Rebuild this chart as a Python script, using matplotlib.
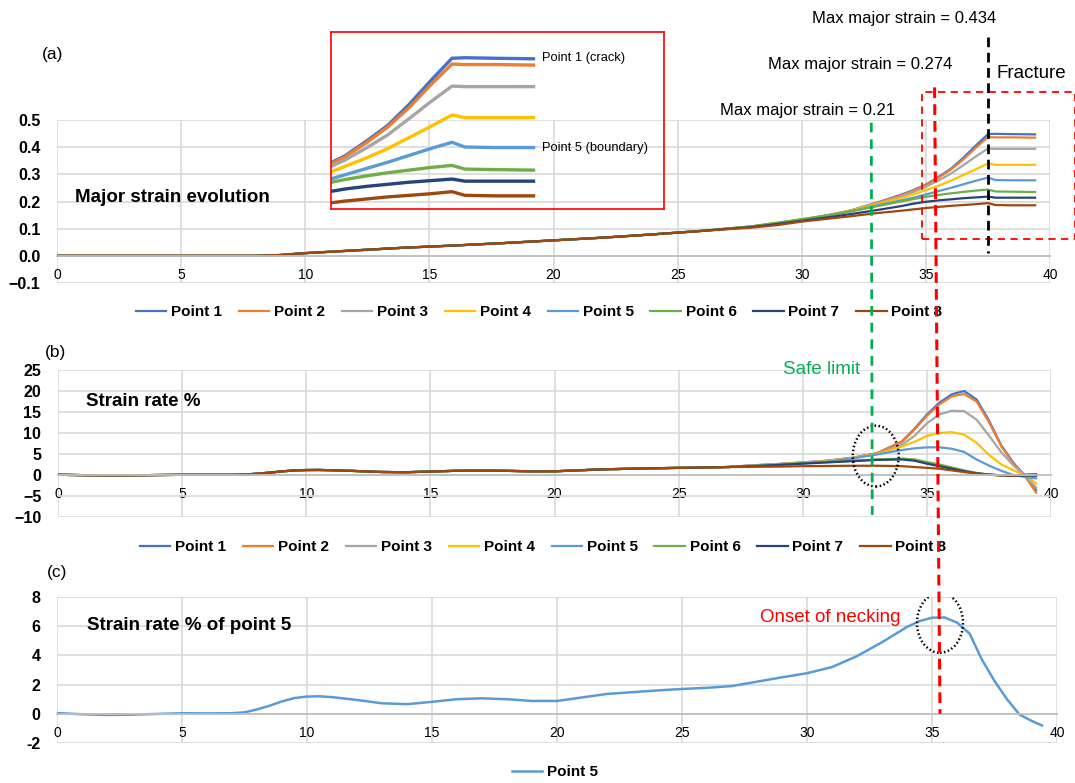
import matplotlib
matplotlib.use("Agg")
import matplotlib.pyplot as plt
from matplotlib.lines import Line2D
from matplotlib.patches import Ellipse, Rectangle

plt.rcParams['font.family'] = ['Liberation Sans', 'DejaVu Sans']

W, H = 1075, 783

# ---- data ----
names = ['Point 1', 'Point 2', 'Point 3', 'Point 4', 'Point 5', 'Point 6', 'Point 7', 'Point 8']
colors = ['#4472C4', '#ED7D31', '#A5A5A5', '#FFC000', '#5B9BD5', '#70AD47', '#264478', '#9E480E']

# (a) major strain
ms_x = [0, 2, 4, 6, 8, 9, 10, 12, 14, 16, 18, 20, 22, 24, 26, 28, 29, 30, 31, 32, 33, 34,
        34.5, 35, 35.5, 36, 36.5, 37, 37.5, 37.8, 38.5, 39.4]
ms_early = [0, 0, 0, 0, 0, 0.003, 0.01, 0.02, 0.03, 0.038, 0.047, 0.057, 0.067, 0.079, 0.092]
ms_p1 = ms_early + [0.108, 0.12, 0.133, 0.148, 0.168, 0.195, 0.225, 0.242, 0.262, 0.29, 0.32,
                    0.36, 0.405, 0.448, 0.449, 0.448, 0.447]
ms_p2 = ms_early + [0.108, 0.12, 0.133, 0.148, 0.167, 0.194, 0.223, 0.24, 0.26, 0.287, 0.317,
                    0.354, 0.397, 0.437, 0.436, 0.436, 0.435]
ms_p3 = ms_early + [0.108, 0.12, 0.133, 0.148, 0.167, 0.192, 0.219, 0.235, 0.254, 0.277, 0.302,
                    0.333, 0.365, 0.395, 0.394, 0.394, 0.394]
ms_p4 = ms_early + [0.108, 0.121, 0.134, 0.149, 0.167, 0.19, 0.213, 0.226, 0.242, 0.258, 0.276,
                    0.297, 0.318, 0.34, 0.335, 0.335, 0.335]
ms_p5 = ms_early + [0.108, 0.12, 0.133, 0.147, 0.164, 0.185, 0.204, 0.214, 0.226, 0.238, 0.25,
                    0.263, 0.276, 0.288, 0.279, 0.278, 0.278]
ms_p6 = ms_early + [0.109, 0.122, 0.135, 0.149, 0.164, 0.182, 0.2, 0.209, 0.217, 0.224, 0.23,
                    0.235, 0.24, 0.244, 0.237, 0.236, 0.235]
ms_p7 = ms_early + [0.106, 0.117, 0.129, 0.141, 0.154, 0.168, 0.183, 0.192, 0.199, 0.204, 0.208,
                    0.212, 0.215, 0.218, 0.214, 0.214, 0.214]
ms_p8 = ms_early + [0.104, 0.113, 0.126, 0.136, 0.146, 0.157, 0.166, 0.171, 0.176, 0.18, 0.184,
                    0.187, 0.19, 0.194, 0.187, 0.186, 0.186]

# (b), (c) strain rate %
sr_x = [0, 1, 2, 3, 4, 5, 6, 7, 7.5, 8, 8.5, 9, 9.5, 10, 10.5, 11, 12, 13, 14, 15, 16, 17, 18,
        19, 20, 21, 22, 23, 24, 25, 26, 27, 28, 29, 30, 31, 32, 33, 34, 34.5, 35, 35.5, 36,
        36.5, 37, 37.5, 38, 38.5, 39, 39.4]
sr_early = [0.05, -0.03, -0.08, -0.06, -0.01, 0.04, 0.03, 0.04, 0.1, 0.3, 0.55, 0.85, 1.08,
            1.18, 1.2, 1.14, 0.95, 0.72, 0.66, 0.82, 1.0, 1.06, 1.0, 0.88, 0.88, 1.12, 1.36,
            1.48, 1.6, 1.7, 1.78, 1.9]
sr_p1 = sr_early + [2.3, 2.6, 3.0, 3.4, 4.1, 5.2, 8.0, 11.0, 14.4, 17.2, 19.2, 20.0, 18.0,
                    13.0, 7.0, 2.8, -0.5, -3.6]
sr_p2 = sr_early + [2.3, 2.6, 3.0, 3.4, 4.1, 5.2, 7.9, 10.8, 14.1, 16.8, 18.7, 19.3, 17.5,
                    12.6, 6.8, 2.6, -0.7, -4.2]
sr_p3 = sr_early + [2.3, 2.6, 2.9, 3.3, 4.0, 5.0, 7.2, 9.3, 12.3, 14.4, 15.3, 15.2, 13.2,
                    9.4, 5.4, 2.2, -0.4, -3.0]
sr_p4 = sr_early + [2.2, 2.5, 2.9, 3.3, 4.0, 5.0, 6.8, 7.9, 9.3, 10.0, 10.2, 9.6, 7.7,
                    4.8, 2.5, 1.1, -0.2, -2.0]
sr_p5 = sr_early + [2.2, 2.5, 2.78, 3.2, 3.95, 4.9, 5.95, 6.35, 6.58, 6.6, 6.25, 5.5, 3.7,
                    2.25, 1.0, -0.05, -0.5, -0.8]
sr_p6 = sr_early + [2.1, 2.4, 2.8, 3.1, 3.4, 3.7, 3.9, 3.7, 3.1, 2.5, 1.8, 1.1, 0.5,
                    0.1, -0.1, -0.2, 0.0, 0.0]
sr_p7 = sr_early + [2.1, 2.4, 2.7, 3.0, 3.3, 3.6, 3.7, 3.4, 2.7, 2.1, 1.5, 0.9, 0.4,
                    0.1, -0.1, -0.2, -0.1, -0.2]
sr_p8 = sr_early + [1.95, 2.0, 2.1, 2.15, 2.2, 2.2, 2.1, 1.9, 1.7, 1.5, 1.1, 0.7, 0.35,
                    0.1, -0.1, -0.1, 0.1, 0.2]

major = [ms_p1, ms_p2, ms_p3, ms_p4, ms_p5, ms_p6, ms_p7, ms_p8]
rates = [sr_p1, sr_p2, sr_p3, sr_p4, sr_p5, sr_p6, sr_p7, sr_p8]

safe_x, neck_x, frac_x = 32.8, 35.32, 37.5


def box(l, t, r, b):
    return [l / W, 1 - b / H, (r - l) / W, (b - t) / H]


def fx(x):
    return x / W


def fy(y):
    return 1 - y / H


def style(ax, ylim, yticks, ylabels):
    ax.set_xlim(0, 40)
    ax.set_ylim(*ylim)
    ax.set_xticks(range(0, 41, 5), [str(v) for v in range(0, 41, 5)], fontweight='bold', fontsize=11.5)
    ax.set_yticks(yticks, ylabels, fontweight='bold', fontsize=11.5)
    ax.grid(True, color='#D9D9D9', lw=1.2)
    ax.set_axisbelow(True)
    for s in ['top', 'right', 'left']:
        ax.spines[s].set_visible(False)
    ax.spines['bottom'].set_position(('data', 0))
    ax.spines['bottom'].set_color('#BFBFBF')
    ax.spines['bottom'].set_linewidth(1.3)
    ax.tick_params(length=0)
    ax.tick_params(axis='x', pad=8.5)
    ax.tick_params(axis='y', pad=12)


def span_line(axA, ptA, axB, ptB, **kw):
    # straight line between a data point of one axes and a data point of another
    inv = fig.transFigure.inverted()
    xa, ya = inv.transform(axA.transData.transform(ptA))
    xb, yb = inv.transform(axB.transData.transform(ptB))
    fig.add_artist(Line2D([xa, xb], [ya, yb], transform=fig.transFigure, zorder=10, **kw))


fig = plt.figure(figsize=(W / 100, H / 100), dpi=100)
ax_a = fig.add_axes(box(57, 120, 1050, 283))
ax_b = fig.add_axes(box(58, 370, 1051, 517))
ax_c = fig.add_axes(box(57, 597, 1057, 743))

# (a)
lines_a = [ax_a.plot(ms_x, v, color=c, lw=1.6, label=n)[0] for v, c, n in zip(major, colors, names)]
style(ax_a, (-0.1, 0.5), [-0.1, 0, 0.1, 0.2, 0.3, 0.4, 0.5],
      ['\u22120.1', '0.0', '0.1', '0.2', '0.3', '0.4', '0.5'])

# (b)
lines_b = [ax_b.plot(sr_x, v, color=c, lw=1.6, label=n)[0] for v, c, n in zip(rates, colors, names)]
style(ax_b, (-10, 25), range(-10, 26, 5),
      ['\u221210', '\u22125', '0', '5', '10', '15', '20', '25'])

# (c)
line_c = ax_c.plot(sr_x, sr_p5, color=colors[4], lw=1.8, label='Point 5')[0]
style(ax_c, (-2, 8), range(-2, 9, 2), ['-2', '0', '2', '4', '6', '8'])

leg = dict(frameon=False, prop={'weight': 'bold', 'size': 11}, handlelength=2.0,
           handletextpad=0.3, columnspacing=1.1, loc='center')
fig.legend(handles=lines_a, ncol=8, bbox_to_anchor=(fx(539), fy(312)), **leg)
fig.legend(handles=lines_b, ncol=8, bbox_to_anchor=(fx(543), fy(547)), **leg)
fig.legend(handles=[line_c], ncol=1, bbox_to_anchor=(fx(555), fy(772)), **leg)

# inset: zoom of the fracture region
ax_in = fig.add_axes(box(331, 32, 664, 209))
ax_in.patch.set_visible(False)
for v, c in zip(major, colors):
    ax_in.plot(ms_x, v, color=c, lw=2.4)
ax_in.set_xlim(34.68, 42.44)
ax_in.set_ylim(0.161, 0.498)
ax_in.set_xticks([])
ax_in.set_yticks([])
for s in ax_in.spines.values():
    s.set_color('red')
    s.set_linewidth(1.2)
fig.text(fx(542), fy(58), 'Point 1 (crack)', fontsize=9.3, va='center')
fig.text(fx(542), fy(148), 'Point 5 (boundary)', fontsize=9.3, va='center')

# red dashed zoom box
ax_a.add_patch(Rectangle((34.84, 0.063), 41.0 - 34.84, 0.604 - 0.063, fill=False, ec='red',
                         lw=1.3, ls=(0, (4, 3)), clip_on=False, zorder=5))

# vertical marker lines
span_line(ax_a, (35.35, 0.62), ax_c, (neck_x, 0.0), color='red', lw=2.2, ls=(0, (3.5, 2)))
span_line(ax_a, (safe_x, 0.49), ax_b, (safe_x, -9.5), color='#00B050', lw=2.0, ls=(0, (3.5, 2.5)))
ax_a.plot([frac_x, frac_x], [0.807, 0.01], color='black', lw=2.0, ls=(0, (3.5, 2)),
          clip_on=False, zorder=10)

# circles
ax_b.add_patch(Ellipse((32.94, 4.5), 1.85, 14.5, fill=False, ec='black', lw=1.8,
                       ls=(0, (0.6, 1.0)), zorder=6))
ax_c.add_patch(Ellipse((35.32, 6.23), 1.84, 4.1, fill=False, ec='black', lw=1.8,
                       ls=(0, (0.6, 1.0)), zorder=6))

# texts
fs = 12
fig.text(fx(904), fy(19), 'Max major strain = 0.434', fontsize=fs, ha='center', va='center')
fig.text(fx(860), fy(65), 'Max major strain = 0.274', fontsize=fs, ha='center', va='center')
fig.text(fx(808), fy(110), 'Max major strain = 0.21', fontsize=fs, ha='center', va='center')
fig.text(fx(997), fy(73), 'Fracture', fontsize=13.5, ha='left', va='center')
fig.text(fx(822), fy(369), 'Safe limit', fontsize=13.5, ha='center', va='center', color='#00B050')
fig.text(fx(900), fy(617), 'Onset of necking', fontsize=13.5, ha='right', va='center', color='red')

fig.text(fx(53), fy(55), '(a)', fontsize=12.5, ha='center', va='center')
fig.text(fx(55), fy(353), '(b)', fontsize=12.5, ha='center', va='center')
fig.text(fx(57), fy(572), '(c)', fontsize=12.5, ha='center', va='center')

fig.text(fx(75), fy(197), 'Major strain evolution', fontsize=13.5, fontweight='bold', va='center')
fig.text(fx(86), fy(402), 'Strain rate %', fontsize=13.5, fontweight='bold', va='center')
fig.text(fx(87), fy(625), 'Strain rate % of point 5', fontsize=13.5, fontweight='bold', va='center')

fig.savefig('out.png', dpi=100)
